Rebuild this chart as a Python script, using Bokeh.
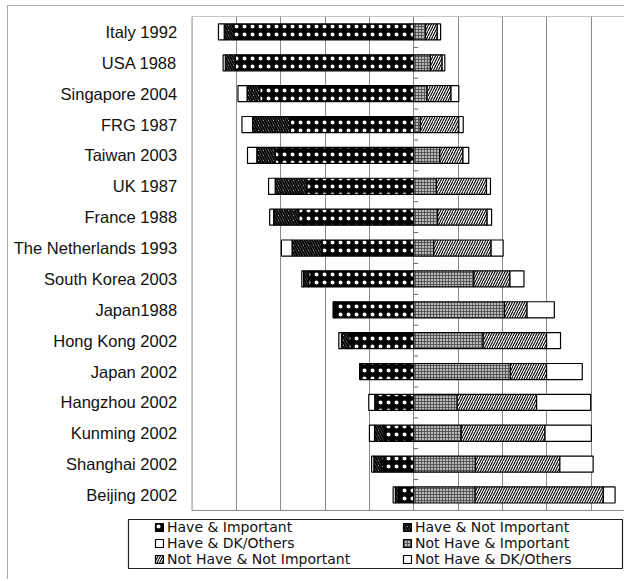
import numpy as np
from bokeh.plotting import figure
from bokeh.core.properties import value
from bokeh.models import Range1d, FixedTicker, Grid, Legend, LegendItem, BoxAnnotation
from bokeh.embed import file_html
from bokeh.resources import INLINE

categories = ["Italy 1992", "USA 1988", "Singapore 2004", "FRG 1987", "Taiwan 2003",
              "UK 1987", "France 1988", "The Netherlands 1993", "South Korea 2003",
              "Japan1988", "Hong Kong 2002", "Japan 2002", "Hangzhou 2002",
              "Kunming 2002", "Shanghai 2002", "Beijing 2002"]

have_important = [81.3, 80.5, 69.5, 55.7, 62.5, 48.2, 51.9, 41.4, 47.4, 35.3, 29.3, 24.1, 16.6, 13.5, 14.7, 6.8]
have_not_important = [4.2, 4.5, 5.7, 17.0, 8.3, 14.3, 11.3, 13.5, 2.3, 0.6, 3.3, 0.3, 1.0, 4.2, 3.3, 1.5]
have_dk_others = [2.6, 1.0, 4.1, 4.8, 4.2, 3.0, 1.8, 4.8, 0.8, 0.5, 1.2, 0.0, 2.7, 2.3, 1.0, 1.0]
not_have_important = [5.3, 7.5, 6.0, 3.0, 11.7, 10.2, 10.8, 9.0, 27.1, 40.9, 31.3, 43.6, 19.6, 21.4, 27.8, 27.7]
not_have_not_important = [5.3, 5.3, 10.8, 17.3, 10.5, 22.6, 22.3, 25.9, 16.3, 10.2, 28.6, 16.3, 35.8, 37.8, 38.1, 57.8]
not_have_dk_others = [1.5, 1.2, 3.5, 2.0, 2.6, 1.8, 2.0, 5.4, 6.3, 12.3, 6.3, 16.1, 24.4, 20.9, 15.0, 5.3]

names = ["Have & Important", "Have & Not Important", "Have & DK/Others",
         "Not Have & Important", "Not Have & Not Important", "Not Have & DK/Others"]

axis_start = -100
grid_ticks = [-80, -60, -40, -20, 0, 20, 40, 60, 80]

n = len(categories)
ys = np.arange(n)

# one frame covering the whole canvas: labels on the left, legend at the bottom
p = figure(width=617, height=574, output_backend="svg", toolbar_location=None, tools="",
           x_range=Range1d(-182.8, 95.5), y_range=Range1d(17.77, -0.5),
           x_axis_location=None, y_axis_location=None,
           min_border_left=0, min_border_right=0, min_border_top=10, min_border_bottom=0)
p.margin = (5, 0, 0, 7)
p.styles = {"border-left": "1px solid #aaa", "border-top": "1px solid #aaa"}
p.outline_line_color = None
p.xgrid.visible = False
p.ygrid.visible = False
p.add_layout(Grid(dimension=0, ticker=FixedTicker(ticks=grid_ticks),
                  grid_line_color="#8a8a8a", grid_line_width=1))

common = dict(height=0.52, line_color="black", line_width=1.2)
styles = [
    dict(fill_color="black", hatch_pattern="dot", hatch_color="white", hatch_scale=8, hatch_weight=1.5),
    dict(fill_color="white", hatch_pattern="left_diagonal_line", hatch_color="black", hatch_scale=5, hatch_weight=2.0),
    dict(fill_color="white"),
    dict(fill_color="#b8b8b8", hatch_pattern="cross", hatch_color="#444444", hatch_scale=3, hatch_weight=0.8),
    dict(fill_color="white", hatch_pattern="right_diagonal_line", hatch_color="black", hatch_scale=5, hatch_weight=1.1),
    dict(fill_color="white"),
]
series = [have_important, have_not_important, have_dk_others,
          not_have_important, not_have_not_important, not_have_dk_others]

renderers = []
cum_left = np.zeros(n)
for k in range(3):
    v = np.array(series[k])
    renderers.append(p.hbar(y=ys, left=-(cum_left + v), right=-cum_left, **common, **styles[k]))
    cum_left = cum_left + v
cum_right = np.zeros(n)
for k in range(3, 6):
    v = np.array(series[k])
    renderers.append(p.hbar(y=ys, left=cum_right, right=cum_right + v, **common, **styles[k]))
    cum_right = cum_right + v

# small tick marks on the centre axis between categories
bounds = ys[:-1] + 0.5
p.segment(x0=np.zeros(len(bounds)), x1=np.full(len(bounds), 2.0), y0=bounds, y1=bounds,
          line_color="#666666", line_width=1)

# category labels
p.text(x=np.full(n, axis_start), y=ys, text=categories, x_offset=-15,
       text_align="right", text_baseline="middle", text_font=value("Liberation Sans"),
       text_font_size="16.5px", text_color="#111111")

# white area under the plot (hides grid lines below the plot area)
p.add_layout(BoxAnnotation(top=n - 0.5, fill_color="white", fill_alpha=1, line_color=None,
                           level="annotation"))
# plot-area border (left, top, bottom)
p.add_layout(BoxAnnotation(left=axis_start, right=120, top=-0.5, bottom=n - 0.5,
                           fill_alpha=0, line_color="#8a8a8a", line_width=1, line_alpha=1))
# legend frame
p.add_layout(BoxAnnotation(left=119, right=613, top=512, bottom=561,
                           left_units="canvas", right_units="canvas",
                           top_units="canvas", bottom_units="canvas",
                           fill_alpha=0, line_color="#222222", line_width=1.2, line_alpha=1))

legend = Legend(items=[LegendItem(label=nm, renderers=[r]) for nm, r in zip(names, renderers)],
                orientation="horizontal", ncols=2, location=(146, 13),
                border_line_color=None, background_fill_alpha=0,
                padding=0, spacing=0, margin=0, glyph_width=10, glyph_height=10,
                label_standoff=3, label_height=16, label_width=235,
                label_text_font="DejaVu Sans", label_text_font_size="14px",
                label_text_color="#111111")
p.add_layout(legend, "center")

open("out.html", "w").write(file_html(p, INLINE))
